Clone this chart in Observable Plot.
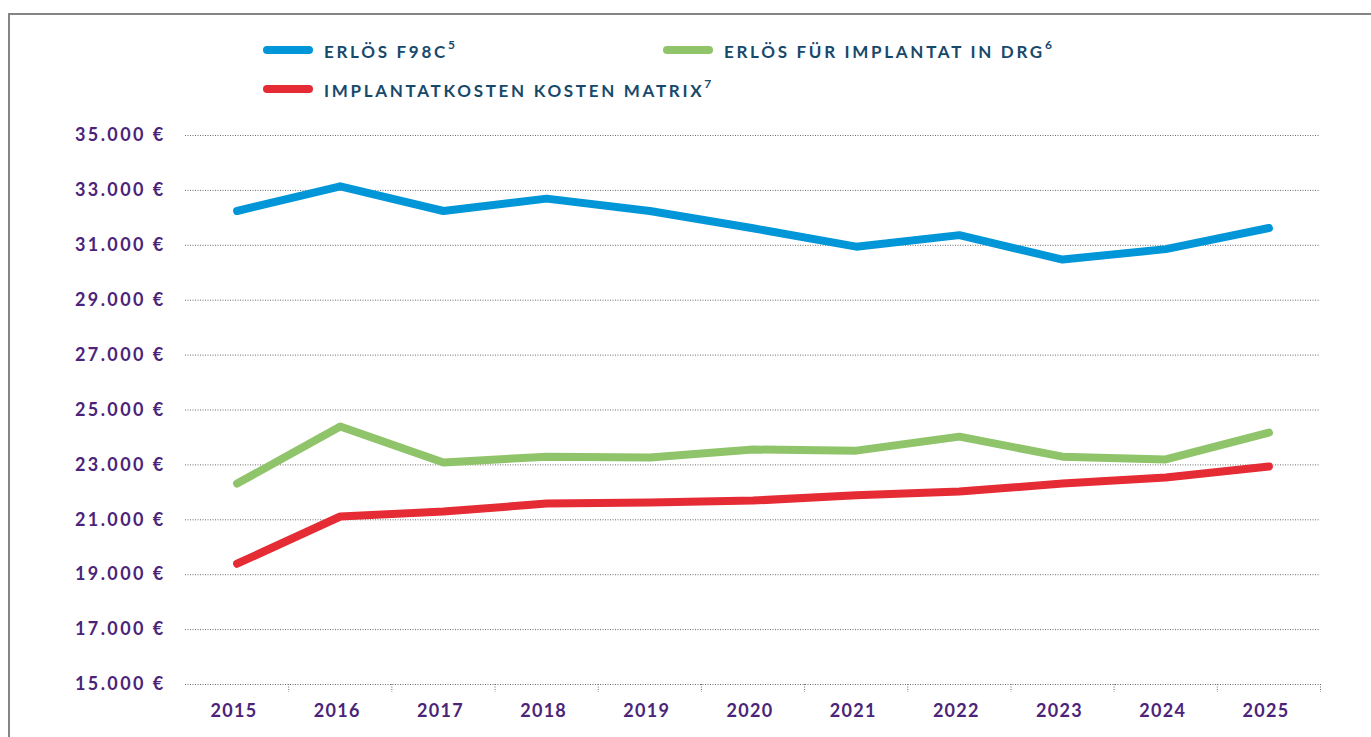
<!DOCTYPE html>
<html>
<head>
<meta charset="utf-8">
<script src="https://cdn.jsdelivr.net/npm/d3@7"></script>
<script src="https://cdn.jsdelivr.net/npm/@observablehq/plot@0.6"></script>
<style>
  html, body { margin: 0; padding: 0; background: #fff; }
  #wrap { position: relative; width: 1371px; height: 737px; overflow: hidden; font-family: Lato, "Open Sans", sans-serif; }
  #frame { position: absolute; left: 8px; top: 13px; width: 1400px; height: 800px; border-left: 2px solid #858585; border-top: 2px solid #858585; box-sizing: border-box; }
  #chart { position: absolute; left: 0; top: 0; }
  #chart svg text { letter-spacing: 1.3px; }
  #chart svg g[aria-label="y-axis tick label"] text { letter-spacing: 2.4px; }
  .leg { position: absolute; display: flex; align-items: center; font-weight: 700; font-size: 17px; letter-spacing: 2.7px; color: #17496b; white-space: nowrap; }
  .sw { display: inline-block; width: 50px; height: 8px; border-radius: 4px; margin-right: 11px; }
  .leg sup { font-size: 12px; letter-spacing: 0; position: relative; top: -2px; margin-left: 0px; }
</style>
</head>
<body>
<div id="wrap">
  <div id="frame"></div>
  <div id="chart"></div>
  <div id="legend"></div>
</div>
<script>
// ---- data ----
const years = [2015, 2016, 2017, 2018, 2019, 2020, 2021, 2022, 2023, 2024, 2025];
const erloesF98C = [32250, 33150, 32250, 32700, 32250, 31620, 30950, 31370, 30480, 30860, 31630];
const erloesImplantatDRG = [22320, 24400, 23090, 23300, 23270, 23560, 23520, 24030, 23300, 23200, 24180];
const implantatkostenMatrix = [19400, 21120, 21300, 21590, 21630, 21700, 21890, 22030, 22320, 22540, 22940];
const yTicks = [15000, 17000, 19000, 21000, 23000, 25000, 27000, 29000, 31000, 33000, 35000];
const yTickLabels = ["15.000 €", "17.000 €", "19.000 €", "21.000 €", "23.000 €", "25.000 €", "27.000 €", "29.000 €", "31.000 €", "33.000 €", "35.000 €"];
const seriesNames = ["ERLÖS F98C", "ERLÖS FÜR IMPLANTAT IN DRG", "IMPLANTATKOSTEN KOSTEN MATRIX"];
const seriesNotes = ["5", "6", "7"];
const seriesColors = ["#0096d8", "#8fc46b", "#e52b34"];

const seriesValues = [erloesF98C, erloesImplantatDRG, implantatkostenMatrix];
const tables = seriesValues.map((vals, s) => years.map((y, i) => ({year: y, value: vals[i], series: seriesNames[s]})));
const bounds = years.map(y => y + 0.5);
const purple = "#4b2479";

const chart = Plot.plot({
  width: 1371,
  height: 737,
  marginLeft: 185,
  marginRight: 51,
  marginTop: 135,
  marginBottom: 53,
  style: {fontFamily: "Lato, 'Open Sans', sans-serif", background: "transparent", overflow: "visible"},
  x: {type: "linear", domain: [years[0] - 0.5, years[years.length - 1] + 0.5]},
  y: {domain: [yTicks[0], yTicks[yTicks.length - 1]]},
  marks: [
    Plot.gridY(yTicks, {stroke: "#6a6a6a", strokeOpacity: 1, strokeWidth: 1, strokeDasharray: "1,1.5"}),
    Plot.axisX(bounds, {tickSize: 8, tickFormat: () => "", stroke: "#6a6a6a", strokeDasharray: "1,1.5", label: null}),
    Plot.axisX(years, {tickSize: 0, tickPadding: 20, dx: -3, tickFormat: d => String(d), fontSize: 18, fontWeight: 700, fill: purple, label: null}),
    Plot.axisY(yTicks, {tickSize: 0, tickPadding: 20, tickFormat: d => yTickLabels[yTicks.indexOf(d)], fontSize: 18, fontWeight: 700, fill: purple, label: null}),
    ...tables.map((t, s) => Plot.line(t, {x: "year", y: "value", stroke: seriesColors[s], strokeWidth: 8, strokeLinecap: "round", strokeLinejoin: "round"}))
  ]
});
document.getElementById("chart").append(chart);

// ---- legend ----
const legendPos = [[263, 39], [663, 39], [263, 78]];
const legend = document.getElementById("legend");
seriesNames.forEach((name, s) => {
  const d = document.createElement("div");
  d.className = "leg";
  d.style.left = legendPos[s][0] + "px";
  d.style.top = legendPos[s][1] + "px";
  const sw = document.createElement("span");
  sw.className = "sw";
  sw.style.background = seriesColors[s];
  d.append(sw);
  const t = document.createElement("span");
  t.textContent = name;
  const sup = document.createElement("sup");
  sup.textContent = seriesNotes[s];
  t.append(sup);
  d.append(t);
  legend.append(d);
});
</script>
</body>
</html>
